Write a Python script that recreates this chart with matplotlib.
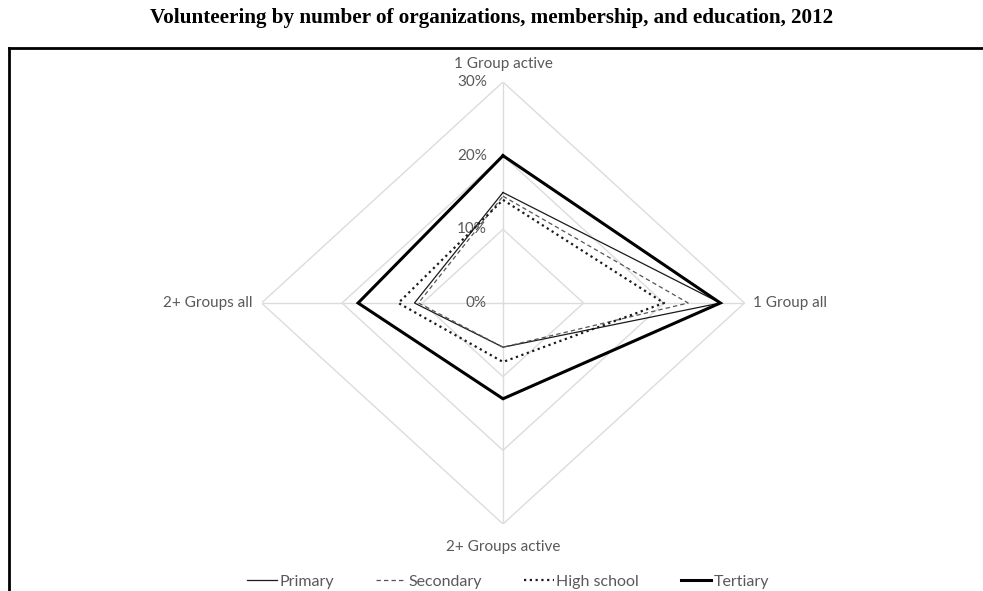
import numpy as np
import matplotlib.pyplot as plt
from matplotlib.lines import Line2D

categories = ["1 Group active", "1 Group all", "2+ Groups active", "2+ Groups all"]
primary = [15, 27, 6, 11]
secondary = [14.5, 23, 6, 10.5]
high_school = [14, 20, 8, 13]
tertiary = [20, 27, 13, 18]
ticks = [0, 10, 20, 30]

series = [
    ("Primary", primary, dict(color="#1a1a1a", lw=0.9, ls="-")),
    ("Secondary", secondary, dict(color="#555555", lw=0.9, ls=(0, (3.5, 2.5)))),
    ("High school", high_school, dict(color="#1a1a1a", lw=1.6, ls=(0, (1, 1.6)))),
    ("Tertiary", tertiary, dict(color="#000000", lw=2.2, ls="-")),
]

fig = plt.figure(figsize=(9.83, 5.91), dpi=100)
ax = fig.add_axes([261.5 / 983, (591 - 524) / 591, 483 / 983, 442 / 591])
ax.set_xlim(-30, 30)
ax.set_ylim(-30, 30)
ax.axis("off")

# clockwise from the top
theta = np.arange(len(categories)) * np.pi / 2
sx, sy = np.sin(theta), np.cos(theta)

grid_c = "#dcdcdc"
for r in ticks[1:]:
    ax.plot(np.append(r * sx, r * sx[0]), np.append(r * sy, r * sy[0]),
            color=grid_c, lw=1, zorder=1)
for a, b in zip(sx, sy):
    ax.plot([0, ticks[-1] * a], [0, ticks[-1] * b], color=grid_c, lw=1, zorder=1)

for name, vals, st in series:
    v = np.array(vals, dtype=float)
    ax.plot(np.append(v * sx, v[0] * sx[0]), np.append(v * sy, v[0] * sy[0]),
            label=name, zorder=3, solid_joinstyle="miter", **st)

txt_c = "#595959"
font = "Lato"
for r in ticks:
    ax.text(-2, r, f"{r}%", ha="right", va="center", color=txt_c,
            fontsize=11, family=font, zorder=2)

ax.text(0, 32.4, categories[0], ha="center", va="center", color=txt_c,
        fontsize=11, family=font, clip_on=False)
ax.text(31.1, 0, categories[1], ha="left", va="center", color=txt_c,
        fontsize=11, family=font, clip_on=False)
ax.text(0, -33.1, categories[2], ha="center", va="center", color=txt_c,
        fontsize=11, family=font, clip_on=False)
ax.text(-31.1, 0, categories[3], ha="right", va="center", color=txt_c,
        fontsize=11, family=font, clip_on=False)

leg = fig.legend(loc="center", bbox_to_anchor=(508 / 983, 1 - 582 / 591), ncol=4,
                 frameon=False, handlelength=1.9, handletextpad=0.15,
                 columnspacing=2.6, prop=dict(family=font, size=11.5))
for t in leg.get_texts():
    t.set_color(txt_c)

fig.text(0.5, 1 - 18 / 591,
         "Volunteering by number of organizations, membership, and education, 2012",
         ha="center", va="center", family="Liberation Serif", weight="bold",
         fontsize=15.2)

# chart frame (cut off at the right and bottom)
x0, y0 = 9 / 983, 1 - 47.5 / 591
fig.add_artist(Line2D([x0, x0], [0, y0], transform=fig.transFigure, color="k", lw=2))
fig.add_artist(Line2D([x0, 1], [y0, y0], transform=fig.transFigure, color="k", lw=2))

fig.savefig("out.png", dpi=100)
